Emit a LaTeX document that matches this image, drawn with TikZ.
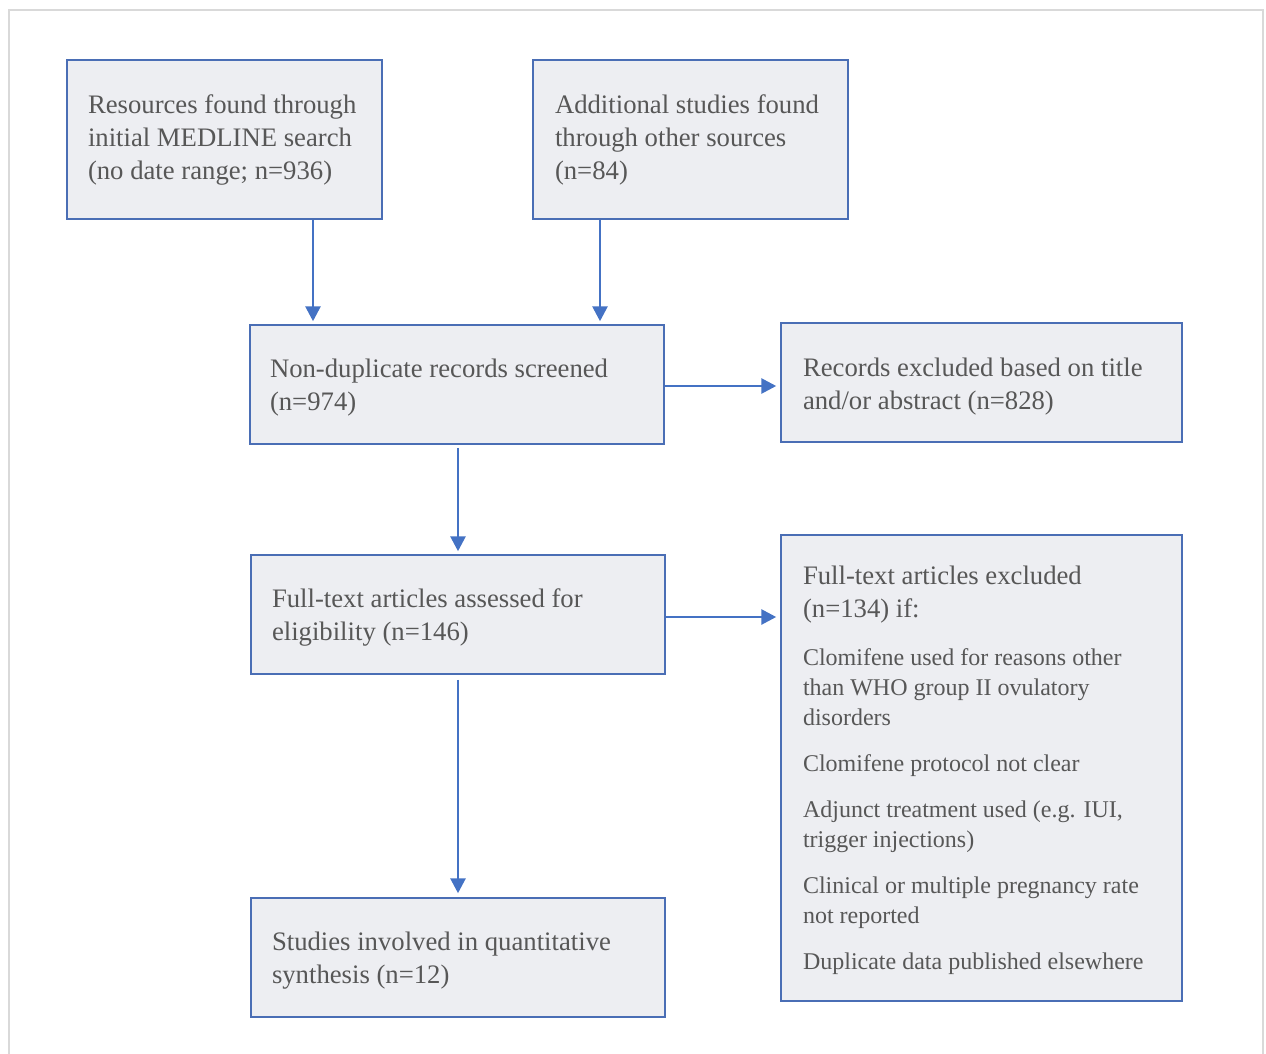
\documentclass[tikz,border=0pt]{standalone}
\usepackage{fontspec}
\setmainfont{Liberation Serif}
\usetikzlibrary{arrows.meta}
\definecolor{boxfill}{HTML}{EDEEF2}
\definecolor{boxline}{HTML}{4A6EB5}
\definecolor{arrowblue}{HTML}{4472C4}
\definecolor{txtgray}{HTML}{575757}
\definecolor{framegray}{HTML}{D9D9D9}
\begin{document}
\begin{tikzpicture}[x=1pt,y=-1pt,
  flowbox/.style={draw=boxline, line width=1.5pt, fill=boxfill, text=txtgray,
    inner xsep=21pt, inner ysep=0pt, align=flush left, anchor=center,
    font=\fontsize{26.7}{33}\selectfont},
  arr/.style={draw=arrowblue, line width=2.8pt, -{Triangle[length=15pt,width=15pt]}}
]
\useasboundingbox (0,0) rectangle (1266,1054);
\fill[white] (0,0) rectangle (1266,1054);
\draw[framegray, line width=1.5pt] (9,1054) -- (9,10) -- (1263,10) -- (1263,1054);

\node[flowbox, minimum width=315pt, minimum height=159pt, text width=273pt] (A) at (224.5,139.5)
  {Resources found through\\initial MEDLINE search\\(no date range; n=936)};
\node[flowbox, minimum width=315pt, minimum height=159pt, text width=271pt, inner xsep=22pt] (B) at (690.5,139.5)
  {Additional studies found\\through other sources\\(n=84)};
\node[flowbox, minimum width=414pt, minimum height=119pt, text width=374pt, inner xsep=20pt] (C) at (457,384.5)
  {Non-duplicate records screened\\(n=974)\par\vspace{-6pt}};
\node[flowbox, minimum width=401pt, minimum height=119pt, text width=357pt, inner xsep=22pt] (D) at (981.5,382.5)
  {Records excluded based on title\\and/or abstract (n=828)\par\vspace{-8pt}};
\node[flowbox, minimum width=414pt, minimum height=119pt, text width=372pt] (E) at (458,614.5)
  {Full-text articles assessed for\\eligibility (n=146)\par\vspace{-6pt}};
\node[flowbox, minimum width=401pt, minimum height=466pt, text width=357pt, inner xsep=22pt] (F) at (981.5,768)
  {Full-text articles excluded\\(n=134) if:\par
   \vspace{18pt}\fontsize{24}{30}\selectfont
   Clomifene used for reasons other\\than WHO group II ovulatory\\disorders\par
   \vspace{16pt}Clomifene protocol not clear\par
   \vspace{16pt}Adjunct treatment used (e.g. IUI,\\trigger injections)\par
   \vspace{16pt}Clinical or multiple pregnancy rate\\not reported\par
   \vspace{16pt}Duplicate data published elsewhere\par\vspace{-5pt}};
\node[flowbox, minimum width=414pt, minimum height=119pt, text width=372pt] (G) at (458,957.5)
  {Studies involved in quantitative\\synthesis (n=12)\par\vspace{-6pt}};

\draw[arr, shorten >=3pt] ([xshift=88.5pt]A.south) -- ([xshift=88.5pt]A.south |- C.north);
\draw[arr, shorten >=3pt] ([xshift=-90.5pt]B.south) -- ([xshift=-90.5pt]B.south |- C.north);
\draw[arr, shorten >=4pt] ([yshift=-1.5pt]C.east) -- ([yshift=-1.5pt]C.east -| D.west);
\draw[arr, shorten <=3pt, shorten >=3pt] ([xshift=1pt]C.south) -- ([xshift=1pt]C.south |- E.north);
\draw[arr, shorten >=4pt] ([yshift=-2.5pt]E.east) -- ([yshift=-2.5pt]E.east -| F.west);
\draw[arr, shorten <=5pt, shorten >=4pt] (E.south) -- (G.north);
\end{tikzpicture}
\end{document}
